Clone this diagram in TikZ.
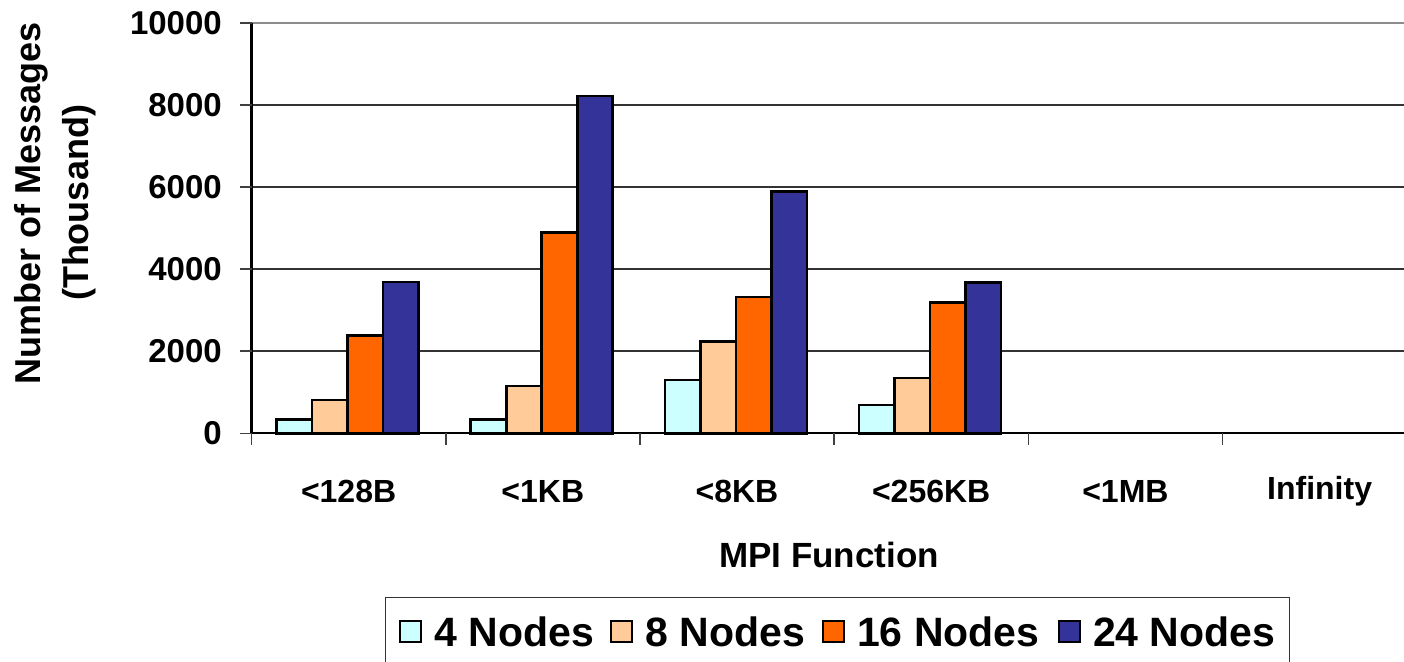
\documentclass[tikz,border=0pt]{standalone}
\usepackage{fontspec}
\setmainfont{Liberation Sans}
\usetikzlibrary{positioning}
\definecolor{nodefour}{HTML}{CCFFFF}
\definecolor{nodeeight}{HTML}{FFCC99}
\definecolor{nodesixteen}{HTML}{FF6600}
\definecolor{nodetwentyfour}{HTML}{333399}
\begin{document}
\begin{tikzpicture}[x=1pt,y=1pt,
    gridline/.style={draw=black!80,line width=1.6pt},
    tickmark/.style={draw=black!75,line width=1.6pt},
    ticklabel/.style={anchor=east,inner sep=0pt,font=\fontsize{33}{38}\selectfont\bfseries},
    catlabel/.style={inner sep=0pt,font=\fontsize{32}{37}\selectfont\bfseries},
    bar/.style={draw=black,line width=2.6pt},
    legsq/.style={draw=black,line width=2.2pt,minimum size=21pt,inner sep=0pt},
    legtext/.style={inner sep=0pt,font=\fontsize{41}{47}\selectfont\bfseries}]
  \useasboundingbox (-251.5,-227.7) rectangle (1152.5,433.3);
  \clip (-251.5,-227.7) rectangle (1152.5,433.3);
  % grid
  \draw[gridline] (0,82.06) -- (1165.2,82.06);
  \draw[gridline] (0,164.12) -- (1165.2,164.12);
  \draw[gridline] (0,246.18) -- (1165.2,246.18);
  \draw[gridline] (0,328.24) -- (1165.2,328.24);
  \draw[draw=black!45,line width=2.6pt] (0,410.3) -- (1165.2,410.3);
  % bars
  \begin{scope}[yscale=0.04103]
    \draw[bar,fill=nodefour] (25,0) rectangle (60.5,340);
    \draw[bar,fill=nodeeight] (60.5,0) rectangle (96,810);
    \draw[bar,fill=nodesixteen] (96,0) rectangle (131.5,2380);
    \draw[bar,fill=nodetwentyfour] (131.5,0) rectangle (167,3690);
    \draw[bar,fill=nodefour] (219.2,0) rectangle (254.7,340);
    \draw[bar,fill=nodeeight] (254.7,0) rectangle (290.2,1150);
    \draw[bar,fill=nodesixteen] (290.2,0) rectangle (325.7,4890);
    \draw[bar,fill=nodetwentyfour] (325.7,0) rectangle (361.2,8220);
    \draw[bar,fill=nodefour] (413.4,0) rectangle (448.9,1300);
    \draw[bar,fill=nodeeight] (448.9,0) rectangle (484.4,2230);
    \draw[bar,fill=nodesixteen] (484.4,0) rectangle (519.9,3320);
    \draw[bar,fill=nodetwentyfour] (519.9,0) rectangle (555.4,5900);
    \draw[bar,fill=nodefour] (607.6,0) rectangle (643.1,690);
    \draw[bar,fill=nodeeight] (643.1,0) rectangle (678.6,1350);
    \draw[bar,fill=nodesixteen] (678.6,0) rectangle (714.1,3190);
    \draw[bar,fill=nodetwentyfour] (714.1,0) rectangle (749.6,3670);
  \end{scope}
  % axes
  \draw[black,line width=2pt] (0,0) -- (1165.2,0);
  \draw[black,line width=2.6pt] (0,0) -- (0,410.3);
  \draw[tickmark]
    (-11.5,0) -- (0,0)
    (-11.5,82.06) -- (0,82.06)
    (-11.5,164.12) -- (0,164.12)
    (-11.5,246.18) -- (0,246.18)
    (-11.5,328.24) -- (0,328.24)
    (-11.5,410.3) -- (0,410.3);
  \draw[tickmark]
    (0,0) -- (0,-12)
    (194.2,0) -- (194.2,-12)
    (388.4,0) -- (388.4,-12)
    (582.6,0) -- (582.6,-12)
    (776.8,0) -- (776.8,-12)
    (971,0) -- (971,-12);
  \draw
    (-29.5,0) node[ticklabel] (y0){0}
    (-29.5,82.06) node[ticklabel] (y2){2000}
    (-29.5,164.12) node[ticklabel] (y4){4000}
    (-29.5,246.18) node[ticklabel] (y6){6000}
    (-29.5,328.24) node[ticklabel] (y8){8000}
    (-29.5,410.3) node[ticklabel] (y10){10000};
  \draw
    (97.1,-57.7) node[catlabel] (c1){<128B}
    (291.3,-57.7) node[catlabel] (c2){<1KB}
    (485.5,-57.7) node[catlabel] (c3){<8KB}
    (679.7,-57.7) node[catlabel] (c4){<256KB}
    (873.9,-57.7) node[catlabel] (c5){<1MB}
    (1068.1,-57.7) node[catlabel] (c6){Infinity};
  \node[inner sep=0pt,font=\fontsize{35}{40}\selectfont\bfseries] (xtitle) at (577.5,-121.7) {MPI Function};
  \node[inner sep=0pt,rotate=90,align=center,font=\fontsize{36}{48}\selectfont\bfseries] (ytitle) at (-196.5,230.3) {Number of Messages\\(Thousand)};
  % legend
  \draw[draw=black!80,line width=1.2pt] (134.2,-164.4) rectangle (1037.8,-240);
  \node[legsq,fill=nodefour] (sq4) at (159.2,-198.4) {};
  \node[legtext,right=12pt of sq4] (lab4) {4 Nodes};
  \node[legsq,fill=nodeeight] (sq8) at (370.2,-198.4) {};
  \node[legtext,right=12pt of sq8] (lab8) {8 Nodes};
  \node[legsq,fill=nodesixteen] (sq16) at (581.8,-198.4) {};
  \node[legtext,right=12pt of sq16] (lab16) {16 Nodes};
  \node[legsq,fill=nodetwentyfour] (sq24) at (817.7,-198.4) {};
  \node[legtext,right=12pt of sq24] (lab24) {24 Nodes};
\end{tikzpicture}
\end{document}
